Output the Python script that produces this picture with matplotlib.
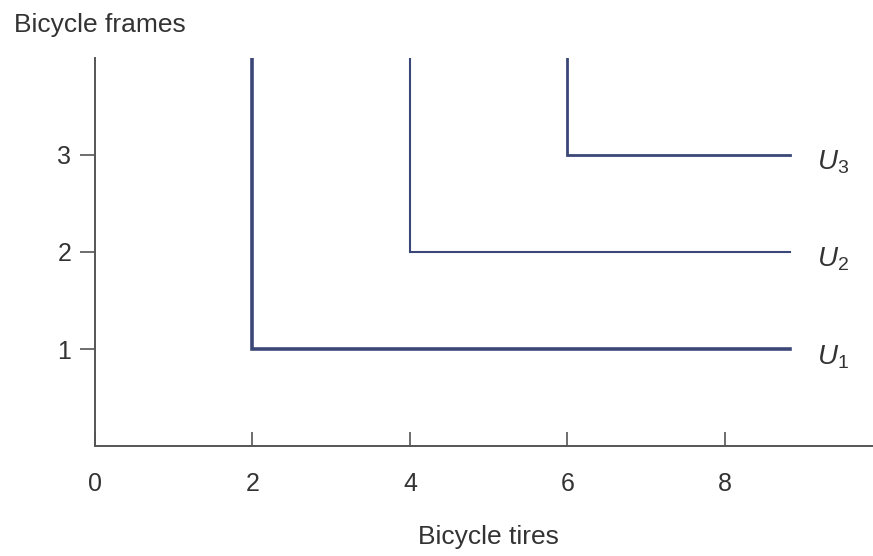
import matplotlib
matplotlib.use("Agg")
import matplotlib.pyplot as plt

plt.rcParams['font.family'] = ['Liberation Sans', 'DejaVu Sans']
plt.rcParams['mathtext.fontset'] = 'custom'
plt.rcParams['mathtext.rm'] = 'Liberation Sans'
plt.rcParams['mathtext.it'] = 'Liberation Sans:italic'

# corner points of the L-shaped indifference curves
corner_x = [2, 4, 6]
corner_y = [1, 2, 3]
curve_names = ['$U_1$', '$U_2$', '$U_3$']
line_widths = [2.6, 1.5, 2.0]
x_end = 8.83
y_top = 4.0

xticks = [0, 2, 4, 6, 8]
yticks = [1, 2, 3]

col = '#3b4877'
grey = '#555555'

fig = plt.figure(figsize=(8.73, 5.56), dpi=100)
ax = fig.add_axes([0.1088, 0.1978, 0.891, 0.698])

for cx, cy, name, lw in zip(corner_x, corner_y, curve_names, line_widths):
    ax.plot([cx, cx, x_end], [y_top, cy, cy], color=col, lw=lw, solid_joinstyle='miter')
    ax.text(9.17, cy - 0.08, name, fontsize=20, va='center', ha='left', color='#333333')

ax.set_xlim(0, 9.88)
ax.set_ylim(0, y_top)
for s in ['top', 'right']:
    ax.spines[s].set_visible(False)
for s in ['left', 'bottom']:
    ax.spines[s].set_color(grey)
    ax.spines[s].set_linewidth(1.4)

ax.set_xticks(xticks)
ax.set_yticks(yticks)
ax.tick_params(axis='x', direction='in', length=10, width=1.2, colors=grey,
               pad=19, labelsize=18, labelcolor='#333333')
ax.tick_params(axis='y', direction='out', length=11, width=1.2, colors=grey,
               pad=6, labelsize=18, labelcolor='#333333')

fig.text(14 / 873, 1 - 25 / 556, 'Bicycle frames', fontsize=19, va='center', ha='left', color='#333333')
fig.text(488 / 873, 1 - 537 / 556, 'Bicycle tires', fontsize=19, va='center', ha='center', color='#333333')

fig.savefig('out.png', dpi=100)
